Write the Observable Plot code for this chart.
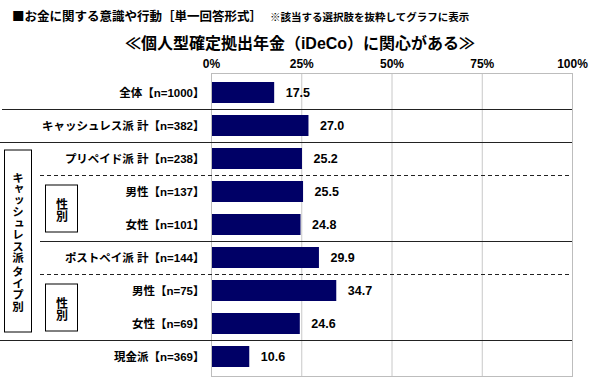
<!DOCTYPE html>
<html>
<head>
<meta charset="utf-8">
<script src="https://cdn.jsdelivr.net/npm/d3@7"></script>
<script src="https://cdn.jsdelivr.net/npm/@observablehq/plot@0.6"></script>
<style>
  html, body { margin: 0; padding: 0; background: #fff; }
  body { width: 600px; height: 384px; overflow: hidden; font-family: "Liberation Sans", "Noto Sans CJK JP", sans-serif; }
  #head { position: relative; height: 50px; width: 600px; }
  #t1 { position: absolute; left: 12px; top: 8px; font-family: "Noto Sans CJK JP", sans-serif; font-weight: bold; font-size: 12.5px; line-height: 15px; white-space: nowrap; color: #000; }
  #t1 span { font-size: 10.5px; margin-left: 8px; }
  #t2 { position: absolute; left: 0; width: 600px; top: 35px; text-align: center; font-weight: bold; font-size: 16px; line-height: 18px; white-space: nowrap; color: #000; }
</style>
</head>
<body>
<div id="head">
  <div id="t1">■お金に関する意識や行動［単一回答形式］<span>※該当する選択肢を抜粋してグラフに表示</span></div>
  <div id="t2">≪個人型確定拠出年金（iDeCo）に関心がある≫</div>
</div>
<div id="chart"></div>
<script>
const categories = ["全体【n=1000】","キャッシュレス派 計【n=382】","プリペイド派 計【n=238】","男性【n=137】","女性【n=101】","ポストペイ派 計【n=144】","男性【n=75】","女性【n=69】","現金派【n=369】"];
const values = [17.5, 27.0, 25.2, 25.5, 24.8, 29.9, 34.7, 24.6, 10.6];
const xTicks = [0, 25, 50, 75, 100];
const groupLabel = "キャッシュレス派 タイプ別";
const subLabel = "性別";

const data = categories.map((c, i) => ({category: c, value: values[i]}));
const FONT = "'Liberation Sans', 'Noto Sans CJK JP', sans-serif";

const chart = Plot.plot({
  width: 600,
  height: 334,
  marginLeft: 211,
  marginRight: 28,
  marginTop: 23,
  marginBottom: 8,
  style: {fontFamily: FONT, background: "#fff", color: "#000"},
  x: {domain: [0, 100], ticks: xTicks, axis: null},
  y: {domain: categories, paddingInner: 0.35, paddingOuter: 0.175, axis: null},
  marks: [
    Plot.gridX(xTicks, {stroke: "#c8c8c8", strokeOpacity: 1}),
    Plot.barX(data, {x: "value", y: "category", fill: "#000066"}),
    Plot.frame({stroke: "#bdbdbd", strokeOpacity: 1}),
    Plot.axisX(xTicks, {anchor: "top", label: null, tickSize: 0, tickPadding: 6, tickFormat: d => d + "%", fontSize: 12, fontWeight: "bold", fill: "#000"}),
    Plot.axisY({anchor: "left", label: null, tickSize: 0, tickPadding: 7, fontSize: 11.5, fontWeight: "bold", fill: "#000"}),
    Plot.text(data, {x: "value", y: "category", text: d => d.value.toFixed(1), dx: 11, textAnchor: "start", fontSize: 12.5, fontWeight: "bold", fill: "#000"})
  ]
});
document.getElementById("chart").appendChild(chart);

// decorations derived from the scales
const ys = chart.scale("y");
const xs = chart.scale("x");
const step = ys.step, bw = ys.bandwidth;
const rowTop = c => ys.apply(c) - (step - bw) / 2;
const rowBottom = c => ys.apply(c) + bw + (step - bw) / 2;
const xRight = xs.apply(100);
const svg = d3.select(chart);
const g = svg.append("g");

const seps = [
  {after: 0, x0: 2, dash: null},
  {after: 1, x0: 0, dash: null},
  {after: 2, x0: 40, dash: "4,3"},
  {after: 4, x0: 40, dash: null},
  {after: 5, x0: 40, dash: "4,3"},
  {after: 7, x0: 0, dash: null}
];
seps.forEach(s => {
  const y = Math.round(rowBottom(categories[s.after])) + 0.5;
  g.append("line").attr("x1", s.x0).attr("x2", xRight).attr("y1", y).attr("y2", y)
    .attr("stroke", "#222").attr("stroke-width", 1.2).attr("stroke-dasharray", s.dash);
});

// outer group box
const gTop = rowTop(categories[2]) + 8, gBot = rowBottom(categories[7]) - 8;
g.append("rect").attr("x", 4.5).attr("y", gTop).attr("width", 27).attr("height", gBot - gTop)
  .attr("fill", "#fff").attr("stroke", "#000").attr("stroke-width", 1);
g.append("text").attr("x", 18).attr("y", (gTop + gBot) / 2 + 1)
  .attr("text-anchor", "middle").attr("font-size", 11.5).attr("font-weight", "bold")
  .attr("font-family", "'Noto Sans CJK JP', sans-serif")
  .style("writing-mode", "vertical-rl").text(groupLabel);

// inner 性別 boxes
[[3, 4], [6, 7]].forEach(([a, b]) => {
  const t = rowTop(categories[a]) + 10, bt = rowBottom(categories[b]) - 9;
  g.append("rect").attr("x", 45.5).attr("y", t).attr("width", 32).attr("height", bt - t)
    .attr("fill", "#fff").attr("stroke", "#000").attr("stroke-width", 1);
  g.append("text").attr("x", 62).attr("y", (t + bt) / 2 + 2)
    .attr("text-anchor", "middle").attr("font-size", 12).attr("font-weight", "bold")
    .attr("font-family", "'Noto Sans CJK JP', sans-serif")
    .style("writing-mode", "vertical-rl").text(subLabel);
});
</script>
</body>
</html>
